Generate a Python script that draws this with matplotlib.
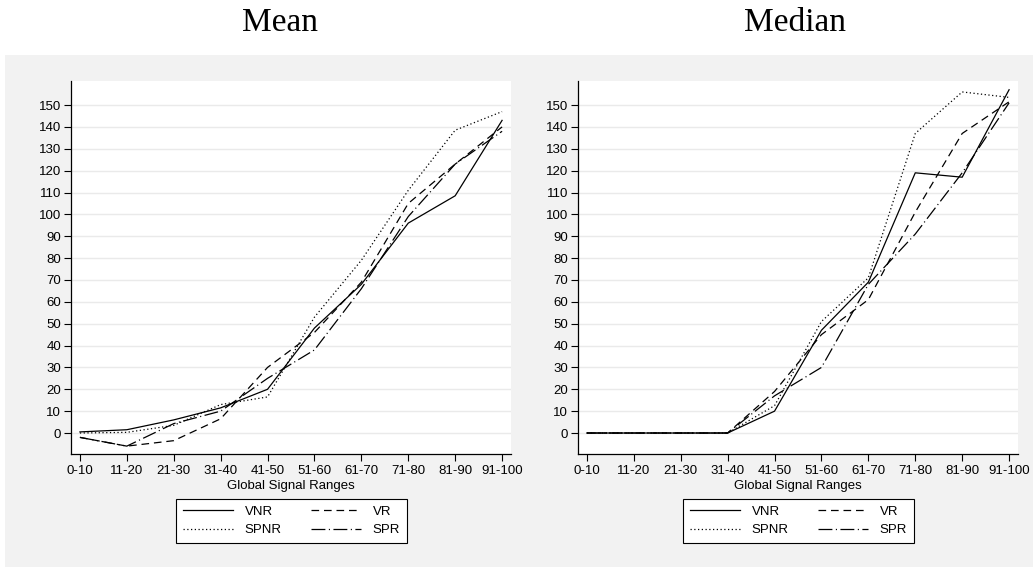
import matplotlib
matplotlib.use("Agg")
import matplotlib.pyplot as plt
from matplotlib.patches import Rectangle

plt.rcParams['font.family'] = ['Liberation Sans', 'DejaVu Sans']
plt.rcParams['lines.scale_dashes'] = False

ranges = ['0-10', '11-20', '21-30', '31-40', '41-50',
          '51-60', '61-70', '71-80', '81-90', '91-100']
# order so that the 2-column legend reads VNR VR / SPNR SPR
series = ['VNR', 'SPNR', 'VR', 'SPR']

# Mean panel
mean_vnr = [0.5, 1.5, 6, 11.5, 20, 48, 68, 96, 108.5, 143]
mean_vr = [-2, -6, -3.5, 6.5, 30, 46, 69, 105, 123, 140]
mean_spnr = [0, 0.3, 3.5, 13, 16.5, 53, 79, 111, 138.5, 147]
mean_spr = [-2, -6, 4.3, 10, 25, 38, 66, 99, 123, 138]

# Median panel
med_vnr = [0, 0, 0, 0, 10, 47, 69, 119, 117, 157]
med_vr = [0, 0, 0, 0, 19, 45, 61, 101, 137, 151.5]
med_spnr = [0, 0, 0, 0, 12.5, 51, 71, 137, 156, 153.5]
med_spr = [0, 0, 0, 0, 17, 30, 68, 91, 119, 151]

styles = {
    'VNR': '-',
    'VR': (0, (5.5, 3.5)),
    'SPNR': (0, (0.9, 1.8)),
    'SPR': (0, (10, 2.5, 0.8, 2.5)),
}

W, H = 1033, 571
fig = plt.figure(figsize=(W / 100, H / 100), dpi=100)
fig.patch.set_facecolor('white')

# gray graph region behind both panels
fig.patches.append(Rectangle((5 / W, (H - 567) / H), 1 - 5 / W, (567 - 55) / H,
                             transform=fig.transFigure, facecolor='#f2f2f2',
                             edgecolor='none', zorder=-10))


def draw_panel(left_px, data, title, title_x):
    ax = fig.add_axes([left_px / W, (H - 454) / H, 440 / W, (454 - 81) / H])
    ax.set_facecolor('white')
    x = list(range(len(ranges)))
    for name in series:
        ax.plot(x, data[name], color='black', linewidth=0.9, linestyle=styles[name], label=name)
    ax.set_xlim(-0.19, 9.19)
    ax.set_ylim(-9.6, 161)
    ax.set_xticks(x)
    ax.set_xticklabels(ranges, fontsize=9.5)
    ax.set_yticks(range(0, 151, 10))
    ax.tick_params(axis='y', labelsize=9.5, length=5, width=0.8, pad=2)
    ax.tick_params(axis='x', length=5, width=0.8, pad=3)
    ax.grid(axis='y', color='#eaeaea', linewidth=1)
    ax.set_axisbelow(True)
    for s in ['top', 'right']:
        ax.spines[s].set_visible(False)
    for s in ['left', 'bottom']:
        ax.spines[s].set_linewidth(0.9)
    ax.set_xlabel('Global Signal Ranges', fontsize=9.5, labelpad=2)
    leg = ax.legend(ncol=2, loc='center', fontsize=9.5,
                    bbox_to_anchor=((left_px + 220.5) / W, (H - 521) / H),
                    bbox_transform=fig.transFigure, fancybox=False,
                    edgecolor='black', framealpha=1, handlelength=3.8,
                    handletextpad=0.9, columnspacing=2.2, borderpad=0.5,
                    labelspacing=0.45)
    leg.get_frame().set_linewidth(0.8)
    fig.text(title_x / W, (H - 31) / H, title, fontsize=24, ha='center', va='baseline',
             family='Liberation Serif')
    return ax


draw_panel(71, {'VNR': mean_vnr, 'VR': mean_vr, 'SPNR': mean_spnr, 'SPR': mean_spr},
           'Mean', 280)
draw_panel(578, {'VNR': med_vnr, 'VR': med_vr, 'SPNR': med_spnr, 'SPR': med_spr},
           'Median', 795)

fig.savefig('out.png', dpi=100)
